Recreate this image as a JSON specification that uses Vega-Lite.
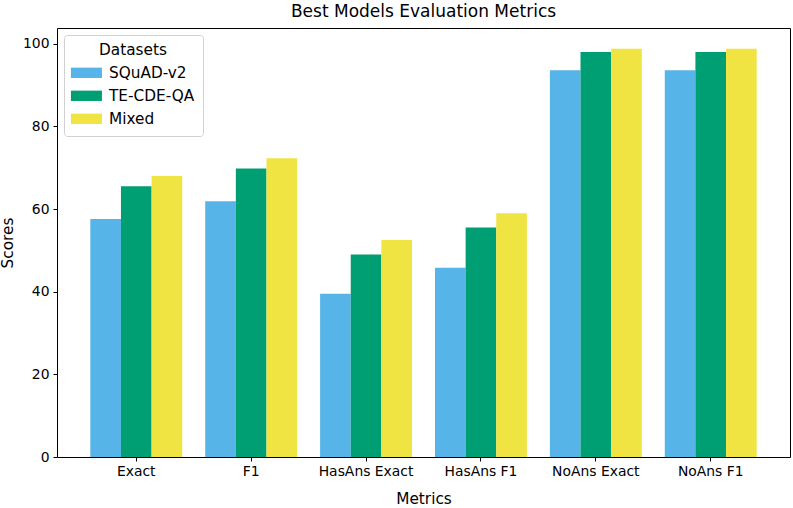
{
  "$schema": "https://vega.github.io/schema/vega-lite/v6.json",
  "width": 733,
  "height": 429,
  "autosize": "none",
  "padding": {"left": 57, "top": 28, "right": 3, "bottom": 51},
  "background": "white",
  "title": {
    "text": "Best Models Evaluation Metrics",
    "font": "DejaVu Sans",
    "fontSize": 17,
    "fontWeight": "normal",
    "color": "black",
    "anchor": "middle",
    "offset": 7
  },
  "config": {
    "font": "DejaVu Sans",
    "view": {"stroke": "black", "strokeWidth": 1},
    "axis": {
      "domain": false,
      "grid": false,
      "tickColor": "black",
      "tickSize": 4,
      "labelColor": "black",
      "labelFontSize": 13.9,
      "titleColor": "black",
      "titleFontSize": 15.3,
      "titleFontWeight": "normal"
    }
  },
  "data": {
    "values": [
      {"metric": "Exact", "dataset": "SQuAD-v2", "score": 57.6},
      {"metric": "Exact", "dataset": "TE-CDE-QA", "score": 65.5},
      {"metric": "Exact", "dataset": "Mixed", "score": 68.0},
      {"metric": "F1", "dataset": "SQuAD-v2", "score": 61.9},
      {"metric": "F1", "dataset": "TE-CDE-QA", "score": 69.8},
      {"metric": "F1", "dataset": "Mixed", "score": 72.3},
      {"metric": "HasAns Exact", "dataset": "SQuAD-v2", "score": 39.5},
      {"metric": "HasAns Exact", "dataset": "TE-CDE-QA", "score": 49.0},
      {"metric": "HasAns Exact", "dataset": "Mixed", "score": 52.5},
      {"metric": "HasAns F1", "dataset": "SQuAD-v2", "score": 45.8},
      {"metric": "HasAns F1", "dataset": "TE-CDE-QA", "score": 55.5},
      {"metric": "HasAns F1", "dataset": "Mixed", "score": 59.0},
      {"metric": "NoAns Exact", "dataset": "SQuAD-v2", "score": 93.6},
      {"metric": "NoAns Exact", "dataset": "TE-CDE-QA", "score": 98.0},
      {"metric": "NoAns Exact", "dataset": "Mixed", "score": 98.8},
      {"metric": "NoAns F1", "dataset": "SQuAD-v2", "score": 93.6},
      {"metric": "NoAns F1", "dataset": "TE-CDE-QA", "score": 98.0},
      {"metric": "NoAns F1", "dataset": "Mixed", "score": 98.8}
    ]
  },
  "mark": "bar",
  "encoding": {
    "x": {
      "field": "metric",
      "type": "nominal",
      "sort": null,
      "title": "Metrics",
      "scale": {"paddingInner": 0.2, "paddingOuter": 0.29},
      "axis": {"labelAngle": 0, "labelPadding": 3, "titlePadding": 14}
    },
    "xOffset": {
      "field": "dataset",
      "type": "nominal",
      "sort": ["SQuAD-v2", "TE-CDE-QA", "Mixed"],
      "scale": {"paddingInner": 0, "paddingOuter": 0}
    },
    "y": {
      "field": "score",
      "type": "quantitative",
      "title": "Scores",
      "scale": {"domain": [0, 103.8], "nice": false},
      "axis": {"values": [0, 20, 40, 60, 80, 100], "labelPadding": 4, "titlePadding": 7}
    },
    "color": {
      "field": "dataset",
      "type": "nominal",
      "sort": ["SQuAD-v2", "TE-CDE-QA", "Mixed"],
      "title": "Datasets",
      "scale": {
        "domain": ["SQuAD-v2", "TE-CDE-QA", "Mixed"],
        "range": ["#56B4E9", "#009E73", "#F0E442"]
      },
      "legend": {
        "orient": "top-left",
        "offset": 7,
        "padding": 8,
        "fillColor": "white",
        "strokeColor": "#d0d0d0",
        "cornerRadius": 3,
        "titleFontSize": 15.3,
        "titleFontWeight": "normal",
        "titleColor": "black",
        "titleAnchor": "middle",
        "titlePadding": 4,
        "labelFontSize": 15.3,
        "labelColor": "black",
        "labelOffset": 16,
        "symbolType": "M-1.12,-0.5H1.88V0.5H-1.12Z",
        "symbolSize": 428,
        "symbolStrokeWidth": 0,
        "symbolOpacity": 1,
        "rowPadding": 4
      }
    }
  }
}
